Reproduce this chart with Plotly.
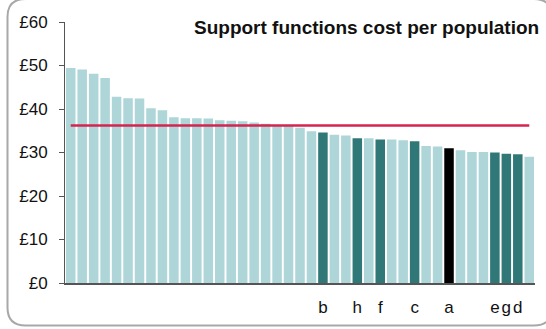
import plotly.graph_objects as go

# Data
values = [49.4, 49.1, 48.1, 47.1, 42.8, 42.5, 42.4, 40.2, 39.7, 38.1,
          37.9, 37.9, 37.8, 37.4, 37.3, 37.2, 36.9, 36.6, 36.3, 36.1,
          35.7, 34.9, 34.6, 34.1, 33.9, 33.3, 33.3, 33.0, 33.0, 32.8,
          32.6, 31.5, 31.4, 31.0, 30.5, 30.1, 30.1, 30.0, 29.7, 29.6, 29.0]
highlight_idx = [22, 25, 27, 30, 37, 38, 39]
self_idx = [33]
label_idx = [22, 25, 27, 30, 33, 37, 38, 39]
label_text = ["b", "h", "f", "c", "a", "e", "g", "d"]
average = 36.2
y_ticks = [0, 10, 20, 30, 40, 50, 60]
y_tick_text = ["£0", "£10", "£20", "£30", "£40", "£50", "£60"]
title = "Support functions cost per population"

LIGHT = "#aed5d8"
DARK = "#307878"
BLACK = "#000000"
RED = "#d42550"

x = list(range(len(values)))
colors = []
for i in x:
    if i in self_idx:
        colors.append(BLACK)
    elif i in highlight_idx:
        colors.append(DARK)
    else:
        colors.append(LIGHT)

W, H = 546, 329
L, R, T, B = 65, 11, 22, 46
pw, ph = W - L - R, H - T - B


def px(xp):
    return (xp - L) / pw


def py(yp):
    return (H - B - yp) / ph


fig = go.Figure()
fig.add_trace(go.Bar(x=x, y=values, marker=dict(color=colors, line=dict(width=0)),
                     hoverinfo="skip", showlegend=False))
fig.add_trace(go.Scatter(x=[x[0], x[-1]], y=[average, average], mode="lines",
                         line=dict(color=RED, width=2.5), showlegend=False,
                         hoverinfo="skip"))

# rounded border
x0, x1, y0, y1, r = 7.5, 552, -1, 325.5, 18
path = (f"M {px(x0)},{py(y0 + r)} L {px(x0)},{py(y1 - r)} "
        f"Q {px(x0)},{py(y1)} {px(x0 + r)},{py(y1)} "
        f"L {px(x1 - r)},{py(y1)} Q {px(x1)},{py(y1)} {px(x1)},{py(y1 - r)} "
        f"L {px(x1)},{py(y0 + r)} Q {px(x1)},{py(y0)} {px(x1 - r)},{py(y0)} "
        f"L {px(x0 + r)},{py(y0)} Q {px(x0)},{py(y0)} {px(x0)},{py(y0 + r)} Z")

fig.update_layout(
    width=W, height=H,
    margin=dict(l=L, r=R, t=T, b=B, autoexpand=False),
    paper_bgcolor="white", plot_bgcolor="white",
    bargap=0.17,
    font=dict(family="Liberation Sans, Arial, sans-serif", color="#111111"),
    shapes=[dict(type="path", path=path, xref="paper", yref="paper",
                 line=dict(color="#a8a8a8", width=2), layer="above")],
    annotations=[dict(text="<b>" + title + "</b>", xref="paper", yref="paper",
                      x=px(541), y=py(27), xanchor="right", yanchor="middle",
                      showarrow=False, font=dict(size=19, color="#111111"))],
)
fig.update_xaxes(range=[-0.5, len(values) - 0.5], tickvals=label_idx, ticktext=label_text,
                 ticks="", tickangle=0, showline=True, linecolor="#555555", linewidth=1.5,
                 showgrid=False, zeroline=False, tickfont=dict(size=17),
                 ticklabelstandoff=8)
fig.update_yaxes(range=[0, 60], tickvals=y_ticks, ticktext=y_tick_text,
                 ticks="outside", ticklen=5, tickcolor="#555555", tickwidth=1,
                 showline=True, linecolor="#555555", linewidth=1,
                 showgrid=False, zeroline=False, tickfont=dict(size=17),
                 ticklabelstandoff=8)

fig.write_html("out.html", config={"displayModeBar": False},
               post_script="document.body.style.margin='0';document.body.style.overflow='hidden';")
